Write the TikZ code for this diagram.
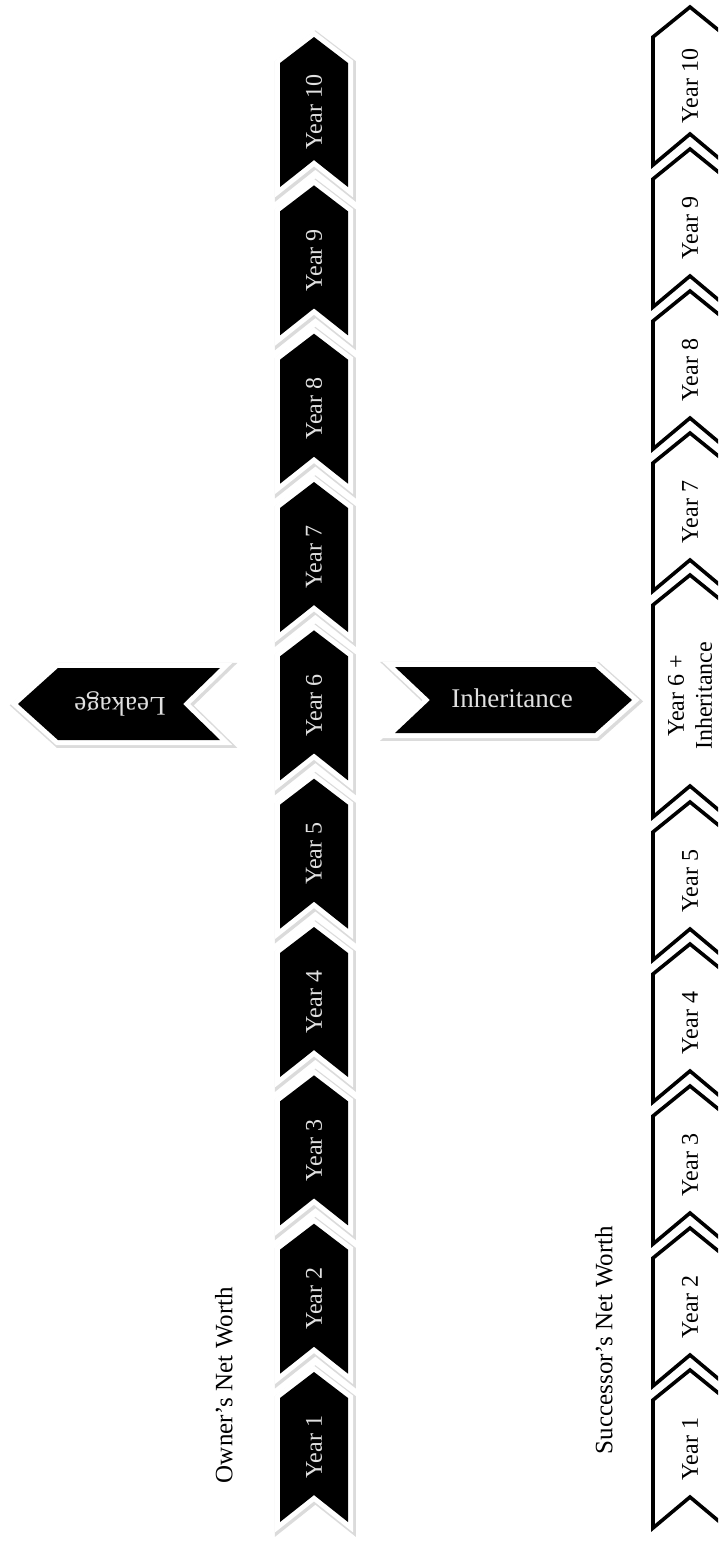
\documentclass[tikz,border=0pt]{standalone}
\usepackage{fontspec}
\setmainfont{Liberation Serif}
\usetikzlibrary{positioning, calc}

\begin{document}
\begin{tikzpicture}[
  x=0.5pt, y=-0.5pt,
  darkchev/.style={fill=black,
    preaction={draw=black!14, line width=6.5pt, transform canvas={shift={(0.7pt,-0.7pt)}}},
    preaction={draw=white, line width=5pt}},
  lightchev/.style={draw=black, line width=1.8pt, fill=white},
  yeartxt/.style={font=\fontsize{12}{14}\selectfont, rotate=90, align=center, inner sep=0pt},
  sidetxt/.style={font=\fontsize{13.5}{16}\selectfont, text=white!88!black, inner sep=0pt},
  worthtxt/.style={font=\fontsize{12.5}{15}\selectfont, rotate=90, inner sep=0pt}
  ]
  \useasboundingbox (0,0) rectangle (718,1541);
  \clip (0,0) rectangle (718,1541);
  % owner's years
  \foreach \yr in {1,...,10}{
    \pgfmathsetmacro{\tp}{1372-(\yr-1)*148.33}
    \fill[darkchev] (280,\tp+26) -- (314,\tp) -- (348,\tp+26) -- (348,\tp+150) -- (314,\tp+123) -- (280,\tp+150) -- cycle;
    \node[yeartxt, text=white!88!black] (own\yr) at (314,\tp+75) {Year \yr};
  }
  % successor's years
  \foreach \yr/\tp/\len in {1/1370/158, 2/1228/158, 3/1086/158, 4/944/158, 5/802/158,
      6/575/242, 7/433/158, 8/291/158, 9/149/158, 10/7/158}{
    \draw[lightchev] (653,\tp+30) -- (690,\tp) -- (727,\tp+30) -- (727,\tp+\len) -- (690,\tp+\len-31) -- (653,\tp+\len) -- cycle;
  }
  \foreach \yr/\tp in {1/1370, 2/1228, 3/1086, 4/944, 5/802, 7/433, 8/291, 9/149, 10/7}
    \node[yeartxt] (succ\yr) at (690,\tp+79) {Year \yr};
  \node[yeartxt] (succ6) at (690,696) {Year 6 +\\Inheritance};
  % leakage and inheritance
  \fill[darkchev] (18,704) -- (58,668) -- (220,668) -- (183,704) -- (220,740) -- (58,740) -- cycle;
  \node[sidetxt, rotate=180] (leak) at (120,704) {Leakage};
  \fill[darkchev] (395,667) -- (595,667) -- (632,700) -- (595,733) -- (395,733) -- (430,700) -- cycle;
  \node[sidetxt] (inh) at (512,698) {Inheritance};
  % labels
  \node[worthtxt] (owner) at (224,1385) {Owner’s Net Worth};
  \node[worthtxt] (successor) at (604,1340) {Successor’s Net Worth};
\end{tikzpicture}
\end{document}
